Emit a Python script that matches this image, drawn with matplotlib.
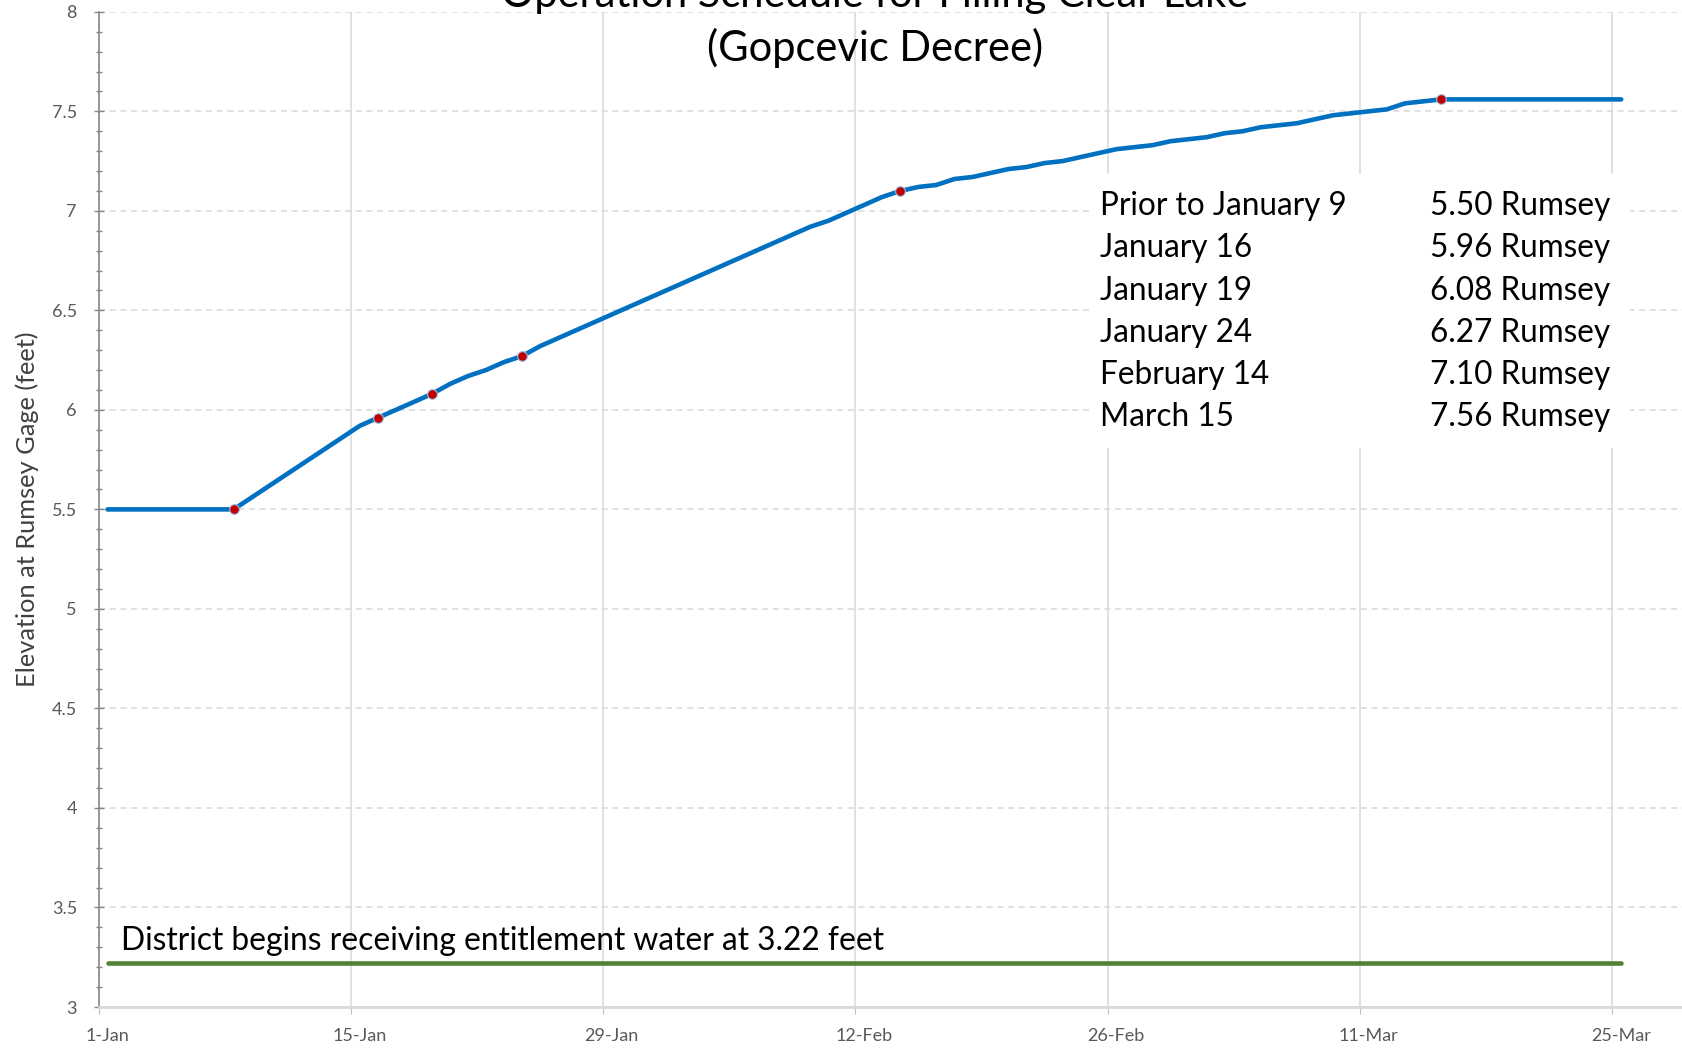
import matplotlib.pyplot as plt
import matplotlib.dates as mdates
import matplotlib.transforms as mtransforms
from matplotlib.patches import Rectangle
from matplotlib.ticker import MultipleLocator, FuncFormatter
import numpy as np
import pandas as pd

# daily lake elevation (Jan 1 - Mar 25)
dates = pd.date_range("2016-01-01", "2016-03-25", freq="D")
elevation = (
    [5.50] * 8
    + [5.56, 5.62, 5.68, 5.74, 5.80, 5.86, 5.92]
    + [5.96, 6.00, 6.04, 6.08, 6.13, 6.17, 6.20, 6.24, 6.27]
    + [6.32, 6.36, 6.40, 6.44, 6.48, 6.52, 6.56, 6.60, 6.64, 6.68,
       6.72, 6.76, 6.80, 6.84, 6.88, 6.92, 6.95, 6.99, 7.03, 7.07]
    + [7.10, 7.12, 7.13, 7.16, 7.17, 7.19, 7.21, 7.22, 7.24, 7.25,
       7.27, 7.29, 7.31, 7.32, 7.33, 7.35, 7.36, 7.37, 7.39, 7.40,
       7.42, 7.43, 7.44, 7.46, 7.48, 7.49, 7.50, 7.51, 7.54, 7.55]
    + [7.56] * 11
)
entitlement_level = 3.22

milestone_dates = pd.to_datetime(["2016-01-08", "2016-01-16", "2016-01-19",
                                  "2016-01-24", "2016-02-14", "2016-03-15"])
milestone_values = [5.50, 5.96, 6.08, 6.27, 7.10, 7.56]
milestone_labels = ["Prior to January 9", "January 16", "January 19",
                    "January 24", "February 14", "March 15"]

tick_dates = pd.to_datetime(["2016-01-01", "2016-01-15", "2016-01-29", "2016-02-12",
                             "2016-02-26", "2016-03-11", "2016-03-25"])
tick_labels = ["1-Jan", "15-Jan", "29-Jan", "12-Feb", "26-Feb", "11-Mar", "25-Mar"]

plt.rcParams["font.family"] = ["Lato", "DejaVu Sans"]

W, H = 1682, 1048
fig = plt.figure(figsize=(W / 100, H / 100), dpi=100)
ax = fig.add_axes([98.5 / W, 41 / H, 1 - 98.5 / W, (1007 - 11.8) / H])

x0 = mdates.date2num(dates[0])
ax.set_xlim(x0, x0 + (W - 98.5) / 18.02)
ax.set_ylim(3, 8)

# points sit in the middle of each day, like an Excel date axis
xd = mdates.date2num(dates) + 0.5
ax.plot(xd, elevation, color="#0070C0", lw=3.3, solid_capstyle="round", zorder=3)
ax.plot(xd, [entitlement_level] * len(xd), color="#548235", lw=3.3,
        solid_capstyle="round", zorder=3)
ax.plot(mdates.date2num(milestone_dates) + 0.5, milestone_values, "o", ms=7,
        mfc="#C00000", mec="#9DC3E6", mew=0.8, zorder=4)

ax.set_xticks(mdates.date2num(tick_dates))
ax.set_xticklabels(tick_labels)
ax.yaxis.set_major_locator(MultipleLocator(0.5))
ax.yaxis.set_minor_locator(MultipleLocator(0.1))
ax.yaxis.set_major_formatter(FuncFormatter(lambda v, p: "{:g}".format(v)))

ax.set_axisbelow(True)
ax.yaxis.grid(True, color="#D9D9D9", linestyle=(0, (4, 3)), lw=1.1)
ax.xaxis.grid(True, color="#D9D9D9", linestyle="-", lw=1.1)

for s in ["top", "right"]:
    ax.spines[s].set_visible(False)
ax.spines["left"].set_color("#868686")
ax.spines["left"].set_linewidth(1.2)
ax.spines["bottom"].set_color("#D9D9D9")
ax.spines["bottom"].set_linewidth(2)

ax.tick_params(axis="x", length=5, color="#BFBFBF", labelsize=13,
               labelcolor="#595959", pad=10)
ax.tick_params(axis="y", which="major", direction="inout", length=7, width=1,
               color="#868686", labelsize=13, labelcolor="#595959", pad=12)
ax.tick_params(axis="y", which="minor", direction="inout", length=5, width=1,
               color="#868686")

shift = mtransforms.ScaledTranslation(8.5 / 100, 0, fig.dpi_scale_trans)
for lbl in ax.get_xticklabels():
    lbl.set_transform(lbl.get_transform() + shift)

fig.text(27 / W, 1 - 509 / H, "Elevation at Rumsey Gage (feet)", rotation=90,
         ha="center", va="center", fontsize=18.3, color="#404040")

# title (cropped at the top in the original)
fig.text(875 / W, 1 - 7 / H, "Operation Schedule for Filling Clear Lake",
         ha="center", va="baseline", fontsize=30, color="black")
fig.text(875 / W, 1 - 48 / H, "(Gopcevic Decree)", ha="center", va="center",
         fontsize=30, color="black")

# milestone table with white background
fig.patches.append(Rectangle((1089 / W, 1 - 448 / H), (1630 - 1089) / W, (448 - 174) / H,
                             transform=fig.transFigure, facecolor="white",
                             edgecolor="none", zorder=1))
row_y = [206, 248, 291, 333, 375, 417]
for lab, val, yy in zip(milestone_labels, milestone_values, row_y):
    fig.text(1099.5 / W, 1 - yy / H, lab, ha="left", va="center", fontsize=22.7,
             color="black", zorder=3)
    fig.text(1430 / W, 1 - yy / H, "{:.2f} Rumsey".format(val), ha="left",
             va="center", fontsize=22.7, color="black", zorder=3)

fig.text(121 / W, 1 - 941 / H,
         "District begins receiving entitlement water at {:.2f} feet".format(entitlement_level),
         ha="left", va="center", fontsize=22.9, color="black")

fig.savefig("out.png", dpi=100)
